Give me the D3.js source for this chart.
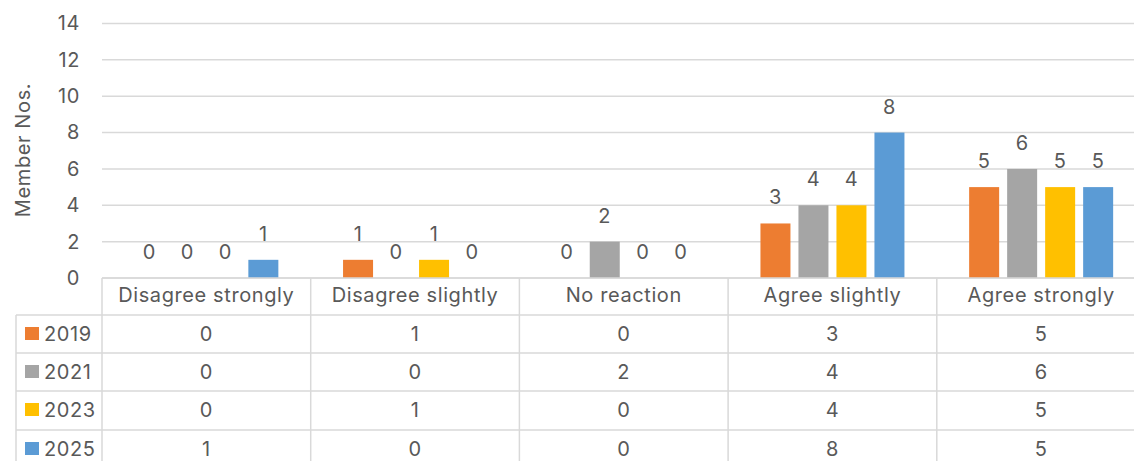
<!DOCTYPE html>
<html>
<head>
<meta charset="utf-8">
<script src="https://cdn.jsdelivr.net/npm/d3@7"></script>
<style>
  body { margin: 0; background: #fff; }
  text { font-family: Inter, "Open Sans", sans-serif; fill: #595959; letter-spacing: 0.6px; }
</style>
</head>
<body>
<div id="chart"></div>
<script>
var categories = ["Disagree strongly", "Disagree slightly", "No reaction", "Agree slightly", "Agree strongly"];
var years = ["2019", "2021", "2023", "2025"];
var values2019 = [0, 1, 0, 3, 5];
var values2021 = [0, 0, 2, 4, 6];
var values2023 = [0, 1, 0, 4, 5];
var values2025 = [1, 0, 0, 8, 5];
var yTicks = [0, 2, 4, 6, 8, 10, 12, 14];
var colors = ["#ED7D31", "#A5A5A5", "#FFC000", "#5B9BD5"];

var series = [values2019, values2021, values2023, values2025];

var svgWidth = 1134;
var svgHeight = 461;
var fontSize = "20px";

var svg = d3.select("#chart")
  .append("svg")
  .attr("width", svgWidth)
  .attr("height", svgHeight);

// plot area
var plotLeft = 102, plotRight = 1145.5, plotTop = 23.5, plotBottom = 278;

var x = d3.scaleBand()
  .domain(categories)
  .range([plotLeft, plotRight]);

var xInner = d3.scaleBand()
  .domain(years)
  .range([0, 144])
  .paddingInner(8 / 38);

var y = d3.scaleLinear()
  .domain([0, 14])
  .range([plotBottom, plotTop]);

// gridlines
svg.append("g")
  .selectAll("line")
  .data(yTicks)
  .enter()
  .append("line")
  .attr("x1", plotLeft)
  .attr("x2", plotRight)
  .attr("y1", d => y(d))
  .attr("y2", d => y(d))
  .attr("stroke", "#D9D9D9")
  .attr("stroke-width", 1.5);

// y axis labels
var yAxis = svg.append("g")
  .attr("transform", `translate(${plotLeft - 4},0)`)
  .call(d3.axisLeft(y).tickValues(yTicks).tickSize(0).tickPadding(18));
yAxis.select(".domain").remove();
yAxis.selectAll("text")
  .attr("fill", "#595959")
  .style("font-size", fontSize)
  .style("font-family", "Inter, sans-serif");

// y axis title
svg.append("text")
  .attr("transform", `translate(30, 150) rotate(-90)`)
  .attr("text-anchor", "middle")
  .style("font-size", fontSize)
  .text("Member Nos.");

// bars
var groups = svg.selectAll(".cat")
  .data(categories)
  .enter()
  .append("g")
  .attr("class", "cat")
  .attr("transform", d => `translate(${x(d) + (x.bandwidth() - 144) / 2},0)`);

years.forEach(function (yr, s) {
  groups.append("rect")
    .attr("x", xInner(yr))
    .attr("width", xInner.bandwidth())
    .attr("y", (d, i) => y(series[s][i]))
    .attr("height", (d, i) => plotBottom - y(series[s][i]))
    .attr("fill", colors[s]);

  groups.append("text")
    .attr("x", xInner(yr) + xInner.bandwidth() / 2)
    .attr("y", (d, i) => y(series[s][i]) - 19)
    .attr("text-anchor", "middle")
    .style("font-size", fontSize)
    .text((d, i) => series[s][i]);
});

// data table
var rowTop = [278, 315, 353, 391, 430];
var legendLeft = 16;
var grid = svg.append("g").attr("stroke", "#D9D9D9").attr("stroke-width", 1.5);

// horizontal lines
grid.append("line").attr("x1", plotLeft).attr("x2", plotRight).attr("y1", rowTop[0]).attr("y2", rowTop[0]);
rowTop.slice(1).forEach(function (ty) {
  grid.append("line").attr("x1", legendLeft).attr("x2", plotRight).attr("y1", ty).attr("y2", ty);
});

// vertical lines
var bounds = categories.map(c => x(c)).concat([plotRight]);
bounds.forEach(function (bx) {
  grid.append("line").attr("x1", bx).attr("x2", bx).attr("y1", rowTop[0]).attr("y2", svgHeight);
});
grid.append("line").attr("x1", legendLeft).attr("x2", legendLeft).attr("y1", rowTop[1]).attr("y2", svgHeight);

// header labels
svg.append("g")
  .selectAll("text")
  .data(categories)
  .enter()
  .append("text")
  .attr("x", d => x(d) + x.bandwidth() / 2)
  .attr("y", rowTop[0] + 24)
  .attr("text-anchor", "middle")
  .style("font-size", fontSize)
  .text(d => d);

// table rows
years.forEach(function (yr, s) {
  var cy = rowTop[s + 1] + 19;
  svg.append("rect")
    .attr("x", 25)
    .attr("y", cy - 7)
    .attr("width", 14)
    .attr("height", 13)
    .attr("fill", colors[s]);
  svg.append("text")
    .attr("x", 44)
    .attr("y", cy + 7)
    .style("font-size", fontSize)
    .text(yr);
  svg.append("g")
    .selectAll("text")
    .data(categories)
    .enter()
    .append("text")
    .attr("x", d => x(d) + x.bandwidth() / 2)
    .attr("y", cy + 7)
    .attr("text-anchor", "middle")
    .style("font-size", fontSize)
    .text((d, i) => series[s][i]);
});
</script>
</body>
</html>
